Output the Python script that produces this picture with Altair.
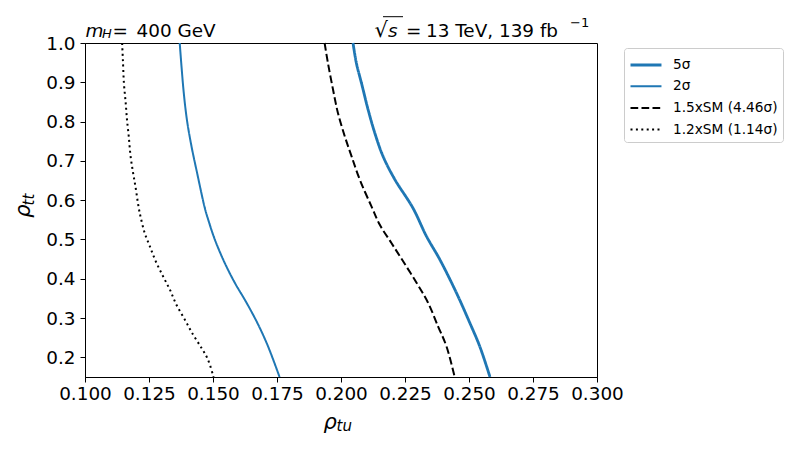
import altair as alt
import pandas as pd

# ---------------- data ----------------
series_names = ["5σ", "2σ", "1.5xSM (4.46σ)", "1.2xSM (1.14σ)"]

# 5 sigma contour
rho_tt_5s = [1.0, 0.949, 0.898, 0.830, 0.771, 0.712, 0.653, 0.580, 0.508, 0.449, 0.364, 0.288, 0.228, 0.15]
rho_tu_5s = [0.2047, 0.2060, 0.2080, 0.2106, 0.2132, 0.2164, 0.2210, 0.2281, 0.2334, 0.2386, 0.2451, 0.2503, 0.2542, 0.2582]

# 2 sigma contour
rho_tt_2s = [1.0, 0.940, 0.872, 0.805, 0.737, 0.669, 0.580, 0.551, 0.500, 0.440, 0.390, 0.339, 0.284, 0.228, 0.15]
rho_tu_2s = [0.1370, 0.1377, 0.1386, 0.1398, 0.1416, 0.1438, 0.1468, 0.1481, 0.1507, 0.1546, 0.1585, 0.1631, 0.1676, 0.1715, 0.1760]

# 1.5 x SM contour
rho_tt_15 = [1.0, 0.949, 0.881, 0.822, 0.762, 0.712, 0.653, 0.584, 0.538, 0.491, 0.445, 0.390, 0.339, 0.279, 0.228, 0.15]
rho_tu_15 = [0.1936, 0.1949, 0.1969, 0.1988, 0.2015, 0.2041, 0.2073, 0.2119, 0.2151, 0.2197, 0.2242, 0.2295, 0.2340, 0.2379, 0.2412, 0.2444]

# 1.2 x SM contour
rho_tt_12 = [1.0, 0.9575, 0.898, 0.847, 0.805, 0.762, 0.712, 0.669, 0.635, 0.580, 0.555, 0.517, 0.483, 0.445, 0.406, 0.373, 0.334, 0.296, 0.258, 0.224, 0.195, 0.15]
rho_tu_12 = [0.1145, 0.1148, 0.1152, 0.1159, 0.1164, 0.1171, 0.1178, 0.1188, 0.1197, 0.1210, 0.1218, 0.1233, 0.1253, 0.1276, 0.1305, 0.1331, 0.1357, 0.1390, 0.1422, 0.1455, 0.1480, 0.1502]

x_ticks = [0.1, 0.125, 0.15, 0.175, 0.2, 0.225, 0.25, 0.275, 0.3]
y_ticks = [0.2, 0.3, 0.4, 0.5, 0.6, 0.7, 0.8, 0.9, 1.0]

# ---------------- build table ----------------
rows = []
for name, xs, ys in zip(series_names,
                        [rho_tu_5s, rho_tu_2s, rho_tu_15, rho_tu_12],
                        [rho_tt_5s, rho_tt_2s, rho_tt_15, rho_tt_12]):
    for i, (xv, yv) in enumerate(zip(xs, ys)):
        rows.append({"series": name, "rho_tu": xv, "rho_tt": yv, "i": i})
df = pd.DataFrame(rows)

colors = ["#1f77b4", "#1f77b4", "black", "black"]
dashes = [[1, 0], [1, 0], [7.7, 3.3], [2, 3.4]]
widths = [2.8, 2.0, 2.0, 2.0]

FONT = "DejaVu Sans"

legend = alt.Legend(
    orient="none", legendX=539, legendY=5, title=None,
    symbolType="M-1,0H1.95", symbolSize=441,
    labelFont=FONT, labelFontSize=13.7, labelColor="black",
    labelOffset=20, padding=5, rowPadding=2.7,
    strokeColor="#cccccc", fillColor="white", cornerRadius=3,
)

lines = alt.Chart(df).mark_line(interpolate="catmull-rom", strokeCap="butt").encode(
    x=alt.X("rho_tu:Q",
            scale=alt.Scale(domain=[0.1, 0.3], nice=False, zero=False),
            axis=alt.Axis(values=x_ticks, format=".3f", title=None, labelPadding=2,
                          labelOverlap=False, labelFlush=False)),
    y=alt.Y("rho_tt:Q",
            scale=alt.Scale(domain=[0.15, 1.0], nice=False, zero=False),
            axis=alt.Axis(values=y_ticks, format=".1f", title=None, labelPadding=5,
                          labelOverlap=False, labelFlush=False)),
    color=alt.Color("series:N", scale=alt.Scale(domain=series_names, range=colors), legend=legend),
    strokeDash=alt.StrokeDash("series:N", scale=alt.Scale(domain=series_names, range=dashes), legend=legend),
    strokeWidth=alt.StrokeWidth("series:N", scale=alt.Scale(type="ordinal", domain=series_names, range=widths), legend=legend),
    order=alt.Order("i:Q"),
)

one = pd.DataFrame({"a": [0]})


def txt(s, x, y, size, italic=False, angle=0):
    return alt.Chart(one).mark_text(
        text=s, align="left", baseline="alphabetic", font=FONT, fontSize=size,
        fontStyle="italic" if italic else "normal", color="black", angle=angle,
    ).encode(x=alt.value(x), y=alt.value(y))


texts = [
    # left title: m_H = 400 GeV
    txt("m", 0.5, -6.3, 18.4, italic=True),
    txt("H", 17, -4.7, 13, italic=True),
    txt("=", 27.5, -6.3, 18.4),
    txt("400 GeV", 51.5, -6.3, 18.4),
    # right title: sqrt(s) = 13 TeV, 139 fb^-1
    txt("√", 289.5, -6.3, 21),
    txt("s", 303, -6.3, 18.4, italic=True),
    txt("=", 321, -6.3, 18.4),
    txt("13 TeV, 139 fb", 341, -6.3, 18.4),
    txt("−1", 485, -16.3, 13),
    # x title rho_tu
    txt("ρ", 238.5, 385.9, 21, italic=True),
    txt("tu", 251.5, 388, 15, italic=True),
    # y title rho_tt
    txt("ρ", -54.6, 174.7, 21, italic=True, angle=270),
    txt("tt", -51, 162.5, 15, italic=True, angle=270),
]

overline = alt.Chart(one).mark_rule(color="black", strokeWidth=1).encode(
    x=alt.value(298), x2=alt.value(318), y=alt.value(-26.3)
)

chart = alt.layer(lines, *texts, overline).properties(
    width=512, height=334,
    background="white",
    autosize=alt.AutoSizeParams(type="none"),
    padding={"left": 77, "top": 35, "right": 195, "bottom": 65},
).configure_view(
    stroke="black", strokeWidth=1
).configure_axis(
    grid=False, domainColor="black", tickColor="black", labelColor="black",
    labelFont=FONT, labelFontSize=18.4, tickSize=5, domainWidth=1, tickWidth=1,
)

chart.save("out.html", embed_options={"renderer": "svg", "actions": False})
